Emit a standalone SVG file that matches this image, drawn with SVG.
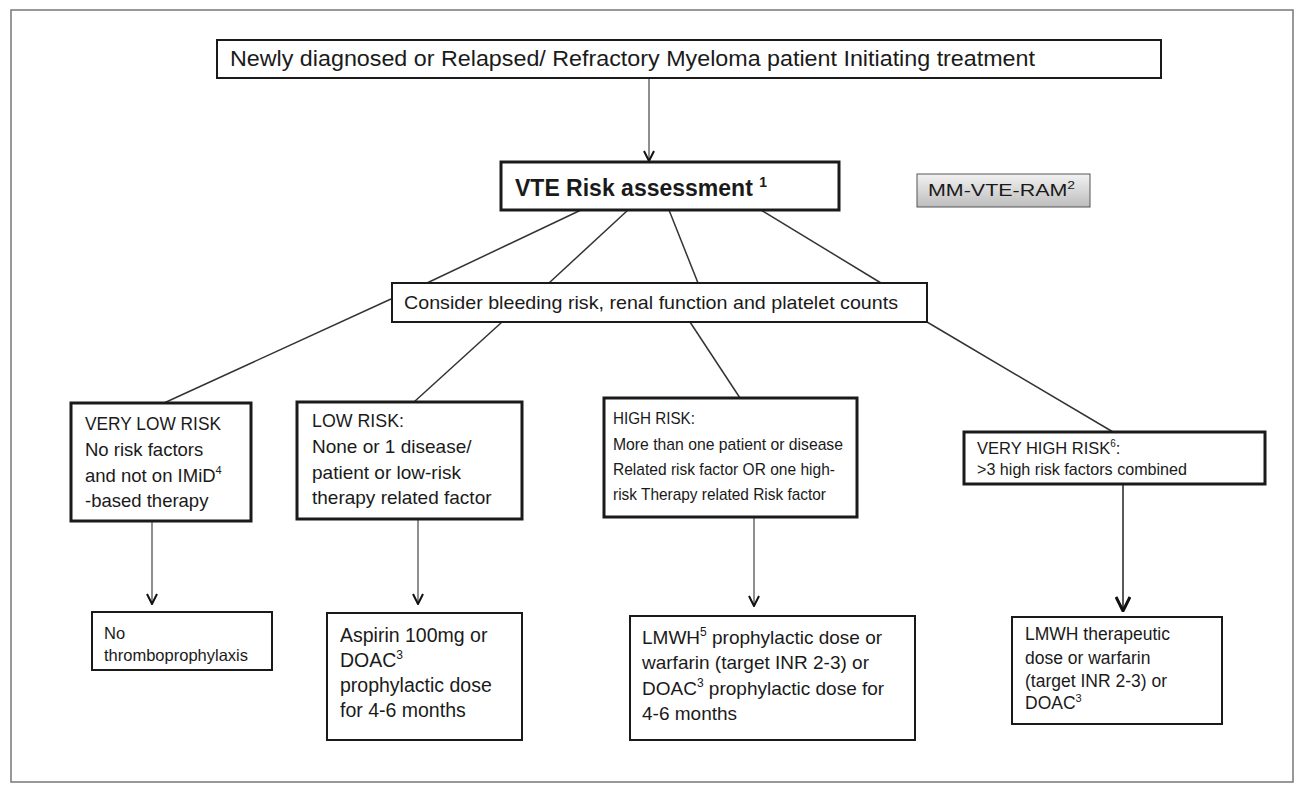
<svg xmlns="http://www.w3.org/2000/svg" width="1301" height="790" viewBox="0 0 1301 790">
<defs>
<style>
text{font-family:"Liberation Sans",Arial,sans-serif;fill:#1a1a1a}
.box{fill:#fff;stroke:#1a1a1a;stroke-width:2}
.thick{fill:#fff;stroke:#1a1a1a;stroke-width:3}
.ln{stroke:#333;stroke-width:1.5;fill:none}
.arr{stroke:#444;stroke-width:1.2;fill:none;marker-end:url(#ah)}
</style>
<marker id="ah" viewBox="0 0 12 12" refX="11" refY="6" markerWidth="12" markerHeight="12" markerUnits="userSpaceOnUse" orient="auto">
<path d="M1,1 L11,6 L1,11" fill="none" stroke="#111" stroke-width="2"/>
</marker>
<marker id="ah2" viewBox="0 0 16 16" refX="15" refY="8" markerWidth="16" markerHeight="16" markerUnits="userSpaceOnUse" orient="auto">
<path d="M1,1 L15,8 L1,15" fill="none" stroke="#111" stroke-width="3"/>
</marker>
<linearGradient id="gray" x1="0" y1="0" x2="0" y2="1">
<stop offset="0" stop-color="#f2f2f2"/>
<stop offset="1" stop-color="#bdbdbd"/>
</linearGradient>
</defs>
<rect x="11" y="10" width="1282" height="772" fill="#fff" stroke="#777" stroke-width="1.5"/>

<g id="connectors">
<line class="arr" x1="649" y1="78" x2="649" y2="161"/>
<line class="ln" x1="581" y1="210" x2="427" y2="283"/>
<line class="ln" x1="628" y1="210" x2="549" y2="283"/>
<line class="ln" x1="669" y1="210" x2="698" y2="283"/>
<line class="ln" x1="761" y1="210" x2="881" y2="283"/>
<line class="ln" x1="391" y1="299" x2="164" y2="403"/>
<line class="ln" x1="502" y1="322" x2="414" y2="402"/>
<line class="ln" x1="690" y1="322" x2="740" y2="398"/>
<line class="ln" x1="927" y1="322" x2="1113" y2="432"/>
<line class="arr" x1="152" y1="521" x2="152" y2="604"/>
<line class="arr" x1="418" y1="519" x2="418" y2="604"/>
<line class="arr" x1="754" y1="517" x2="754" y2="606"/>
<line x1="1123" y1="484" x2="1123" y2="611" stroke="#222" stroke-width="1.5" marker-end="url(#ah2)"/>
</g>

<g id="n-start">
<rect class="box" x="217" y="40" width="944" height="38"/>
<text x="230" y="66" font-size="22" textLength="805" lengthAdjust="spacingAndGlyphs">Newly diagnosed or Relapsed/ Refractory Myeloma patient Initiating treatment</text>
</g>

<g id="n-vte">
<rect class="thick" x="501" y="162" width="338" height="48"/>
<text x="515" y="196" font-size="23" font-weight="bold">VTE Risk assessment <tspan font-size="14" dy="-9">1</tspan></text>
</g>

<g id="n-ram">
<rect x="917" y="174" width="173" height="33" fill="url(#gray)" stroke="#555" stroke-width="1"/>
<text x="928" y="196" font-size="17" textLength="147" lengthAdjust="spacingAndGlyphs">MM-VTE-RAM<tspan font-size="11" dy="-7">2</tspan></text>
</g>

<g id="n-consider">
<rect class="box" x="392" y="283" width="535" height="39"/>
<text x="404" y="309" font-size="19" textLength="494" lengthAdjust="spacingAndGlyphs">Consider bleeding risk, renal function and platelet counts</text>
</g>

<g id="n-vlr" font-size="18.5">
<rect class="thick" x="71" y="403" width="180" height="118"/>
<text x="85" y="430" textLength="136" lengthAdjust="spacingAndGlyphs">VERY LOW RISK</text>
<text x="85" y="456">No risk factors</text>
<text x="85" y="482">and not on IMiD<tspan font-size="11" dy="-8">4</tspan></text>
<text x="85" y="507">-based therapy</text>
</g>

<g id="n-lr" font-size="19">
<rect class="thick" x="297" y="402" width="225" height="117"/>
<text x="312" y="427" textLength="92" lengthAdjust="spacingAndGlyphs">LOW RISK:</text>
<text x="312" y="453">None or 1 disease/</text>
<text x="312" y="479">patient or low-risk</text>
<text x="312" y="504">therapy related factor</text>
</g>

<g id="n-hr" font-size="17">
<rect class="thick" x="604" y="398" width="253" height="119"/>
<text x="613" y="424" textLength="82" lengthAdjust="spacingAndGlyphs">HIGH RISK:</text>
<text x="613" y="450" textLength="230" lengthAdjust="spacingAndGlyphs">More than one patient or disease</text>
<text x="613" y="475" textLength="222" lengthAdjust="spacingAndGlyphs">Related risk factor  OR one high-</text>
<text x="613" y="500" textLength="213" lengthAdjust="spacingAndGlyphs">risk Therapy related Risk factor</text>
</g>

<g id="n-vhr" font-size="16.5">
<rect class="thick" x="964" y="432" width="301" height="52"/>
<text x="977" y="454">VERY HIGH RISK<tspan font-size="10" dy="-7">6</tspan><tspan dy="7">:</tspan></text>
<text x="977" y="475" textLength="210" lengthAdjust="spacingAndGlyphs">&gt;3 high risk factors combined</text>
</g>

<g id="n-none" font-size="16.5">
<rect class="box" x="92" y="612" width="180" height="58"/>
<text x="104" y="639">No</text>
<text x="104" y="661">thromboprophylaxis</text>
</g>

<g id="n-aspirin" font-size="19.5">
<rect class="box" x="327" y="613" width="195" height="127"/>
<text x="340" y="642">Aspirin 100mg or</text>
<text x="340" y="667">DOAC<tspan font-size="12" dy="-8">3</tspan></text>
<text x="340" y="692">prophylactic dose</text>
<text x="340" y="717">for 4-6 months</text>
</g>

<g id="n-lmwh" font-size="19">
<rect class="box" x="630" y="616" width="285" height="124"/>
<text x="642" y="644">LMWH<tspan font-size="12" dy="-8">5</tspan><tspan dy="8"> prophylactic dose or</tspan></text>
<text x="642" y="669">warfarin (target INR 2-3) or</text>
<text x="642" y="695">DOAC<tspan font-size="12" dy="-8">3</tspan><tspan dy="8"> prophylactic dose for</tspan></text>
<text x="642" y="720">4-6 months</text>
</g>

<g id="n-ther" font-size="17.5">
<rect class="box" x="1012" y="617" width="210" height="107"/>
<text x="1025" y="640">LMWH therapeutic</text>
<text x="1025" y="664">dose or warfarin</text>
<text x="1025" y="687">(target INR 2-3) or</text>
<text x="1025" y="709">DOAC<tspan font-size="11" dy="-7">3</tspan></text>
</g>
</svg>
